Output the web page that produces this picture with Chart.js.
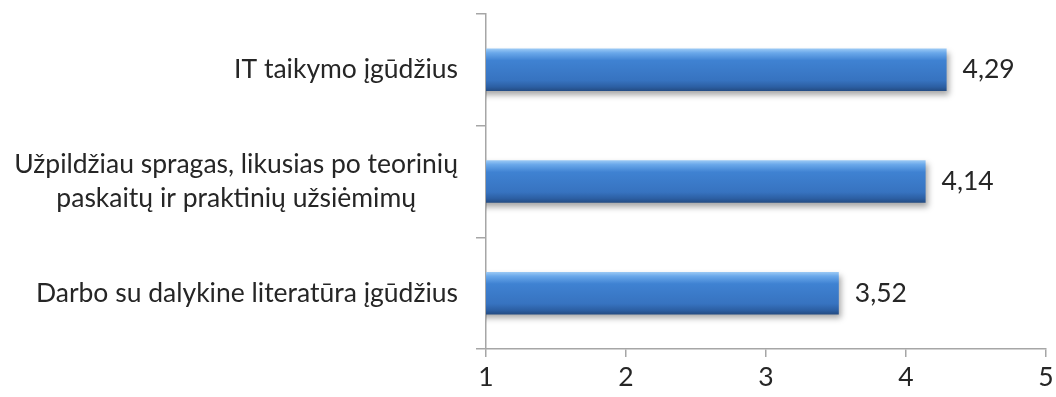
<!DOCTYPE html>
<html>
<head>
<meta charset="utf-8">
<script src="https://cdn.jsdelivr.net/npm/chart.js@4/dist/chart.umd.min.js"></script>
<style>
  html, body { margin: 0; padding: 0; background: #fff; }
  #wrap { width: 1056px; height: 397px; }
</style>
</head>
<body>
<div id="wrap"><canvas id="chart"></canvas></div>
<script>
const categories = [
    ['IT taikymo įgūdžius'],
    ['Užpildžiau spragas, likusias po teorinių', 'paskaitų ir praktinių užsiėmimų'],
    ['Darbo su dalykine literatūra įgūdžius']
];
const values = [4.29, 4.14, 3.52];
const xTicks = [1, 2, 3, 4, 5];

const fontFamily = 'Lato, "Open Sans", sans-serif';
const fontSize = 26.5;
const textColor = '#262626';
const axisColor = '#a6a6a6';
const barPct = 0.38;

const fmt = v => v.toFixed(2).replace('.', ',');

// vertical gradient for the "3D" bar look
function barFill(ctx) {
    const chart = ctx.chart;
    const y = chart.scales.y;
    if (!y || ctx.dataIndex === undefined) return '#3a78c3';
    const c = y.getPixelForValue(ctx.dataIndex);
    const h = (y.height / categories.length) * barPct;
    if (!isFinite(c) || !isFinite(h) || h <= 0) return '#3a78c3';
    const g = chart.ctx.createLinearGradient(0, c - h / 2, 0, c + h / 2);
    g.addColorStop(0, '#9ccaf5');
    g.addColorStop(0.1, '#6aa8ea');
    g.addColorStop(0.28, '#3f82d2');
    g.addColorStop(0.75, '#3773c0');
    g.addColorStop(0.9, '#2c5fa3');
    g.addColorStop(1, '#234b82');
    return g;
}

const shadowPlugin = {
    id: 'shadow',
    beforeDatasetsDraw(chart) {
        const ctx = chart.ctx;
        ctx.save();
        ctx.shadowColor = 'rgba(0,0,0,0.35)';
        ctx.shadowBlur = 6;
        ctx.shadowOffsetX = 2;
        ctx.shadowOffsetY = 4;
    },
    afterDatasetsDraw(chart) {
        chart.ctx.restore();
    }
};

const labelPlugin = {
    id: 'labels',
    afterDraw(chart) {
        const ctx = chart.ctx;
        const y = chart.scales.y;
        ctx.save();
        ctx.font = fontSize + 'px ' + fontFamily;
        ctx.fillStyle = textColor;
        ctx.textBaseline = 'middle';
        // category labels: block right-aligned, lines centered within block
        const right = y.right - 28;
        const lineH = 34;
        categories.forEach((lines, i) => {
            const cy = y.getPixelForValue(i);
            const w = Math.max(...lines.map(l => ctx.measureText(l).width));
            const cx = right - w / 2;
            ctx.textAlign = 'center';
            lines.forEach((l, k) => {
                const ly = cy + (k - (lines.length - 1) / 2) * lineH;
                ctx.fillText(l, cx, ly);
            });
        });
        // value labels
        ctx.textAlign = 'left';
        const meta = chart.getDatasetMeta(0);
        meta.data.forEach((bar, i) => {
            ctx.fillText(fmt(values[i]), bar.x + 16, bar.y);
        });
        ctx.restore();
    }
};

new Chart(document.getElementById('chart'), {
    type: 'bar',
    data: {
        labels: categories,
        datasets: [{
            data: values,
            backgroundColor: barFill,
            borderWidth: 0,
            categoryPercentage: 1,
            barPercentage: barPct
        }]
    },
    options: {
        indexAxis: 'y',
        responsive: true,
        maintainAspectRatio: false,
        animation: false,
        layout: { padding: { top: 14, right: 10, bottom: 0, left: 0 } },
        plugins: { legend: { display: false }, tooltip: { enabled: false } },
        scales: {
            x: {
                min: 1,
                max: 5,
                afterBuildTicks: scale => { scale.ticks = xTicks.map(v => ({ value: v })); },
                afterFit: scale => {
                    scale.height = 48;
                    scale.paddingRight = 0;
                    scale.paddingLeft = 0;
                },
                ticks: {
                    color: textColor,
                    font: { family: fontFamily, size: fontSize, lineHeight: 1 },
                    padding: 7,
                    maxRotation: 0
                },
                grid: { drawOnChartArea: false, drawTicks: true, tickLength: 8, color: axisColor, lineWidth: 1.5 },
                border: { color: axisColor, width: 1.5 }
            },
            y: {
                afterFit: scale => { scale.width = 486; },
                ticks: { color: 'transparent', font: { family: fontFamily, size: 12 } },
                grid: { offset: true, drawOnChartArea: false, drawTicks: true, tickLength: 10, color: axisColor, lineWidth: 1.5 },
                border: { color: axisColor, width: 1.5 }
            }
        }
    },
    plugins: [shadowPlugin, labelPlugin]
});
</script>
</body>
</html>
